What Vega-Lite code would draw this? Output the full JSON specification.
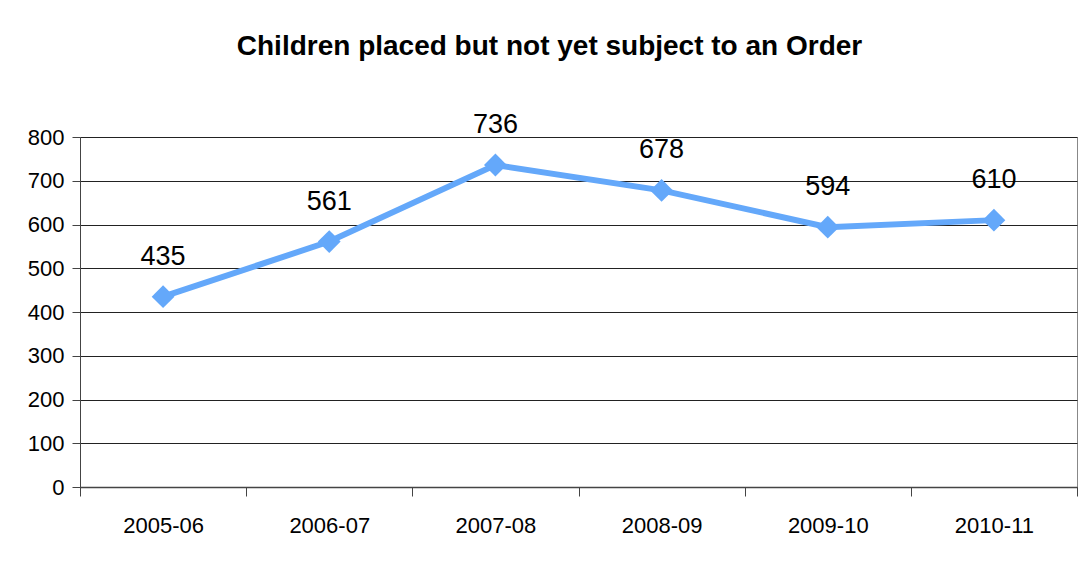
{
  "$schema": "https://vega.github.io/schema/vega-lite/v6.json",
  "autosize": {"type": "none"},
  "width": 997,
  "height": 350,
  "padding": {"left": 80, "top": 137, "right": 8, "bottom": 85},
  "background": "white",
  "title": {
    "text": "Children placed but  not  yet subject  to an Order",
    "font": "Liberation Sans, Arial",
    "fontSize": 28,
    "fontWeight": "bold",
    "color": "#000000",
    "anchor": "middle",
    "dx": -29,
    "offset": 50
  },
  "config": {
    "view": {"stroke": "#888888", "strokeWidth": 1},
    "font": "Liberation Sans, Arial"
  },
  "data": {
    "values": [
      {"year": "2005-06", "value": 435},
      {"year": "2006-07", "value": 561},
      {"year": "2007-08", "value": 736},
      {"year": "2008-09", "value": 678},
      {"year": "2009-10", "value": 594},
      {"year": "2010-11", "value": 610}
    ]
  },
  "encoding": {
    "x": {
      "field": "year",
      "type": "ordinal",
      "bandPosition": 0.5,
      "scale": {"type": "band", "paddingInner": 0, "paddingOuter": 0},
      "axis": {
        "title": null,
        "labelAngle": 0,
        "labelFontSize": 22,
        "labelColor": "#000000",
        "labelPadding": 19,
        "ticks": true,
        "tickBand": "extent",
        "tickSize": 9,
        "tickColor": "#444444",
        "domain": true,
        "domainColor": "#444444",
        "domainWidth": 1.5,
        "grid": false
      }
    },
    "y": {
      "field": "value",
      "type": "quantitative",
      "scale": {"domain": [0, 800]},
      "axis": {
        "title": null,
        "values": [0, 100, 200, 300, 400, 500, 600, 700, 800],
        "labelFontSize": 22,
        "labelColor": "#000000",
        "labelPadding": 8,
        "tickSize": 8,
        "tickColor": "#444444",
        "domainColor": "#444444",
        "grid": true,
        "gridColor": "#222222",
        "gridWidth": 1
      }
    }
  },
  "layer": [
    {
      "mark": {"type": "line", "color": "#64A8FA", "strokeWidth": 6},
      "encoding": {}
    },
    {
      "mark": {"type": "point", "shape": "diamond", "filled": true, "color": "#64A8FA", "size": 520, "opacity": 1},
      "encoding": {}
    },
    {
      "mark": {"type": "text", "fontSize": 27, "dy": -32, "baseline": "alphabetic", "color": "#000000"},
      "encoding": {"text": {"field": "value", "type": "quantitative"}}
    }
  ]
}
